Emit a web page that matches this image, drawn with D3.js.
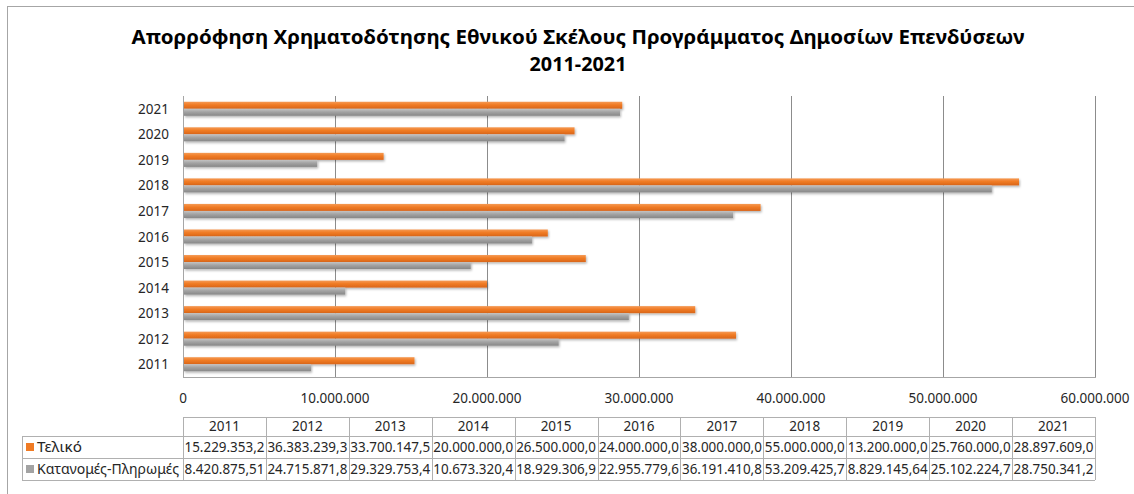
<!DOCTYPE html>
<head>
  <meta charset="utf-8">
  <style>
    body { margin: 0; background: #fff; }
    svg { display: block; font-family: "Noto Sans", "Open Sans", sans-serif; }
  </style>
  <script src="https://cdn.jsdelivr.net/npm/d3@7"></script>
</head>
<body>
  <svg width="1134" height="494"></svg>
  <script>

  var years = [2011, 2012, 2013, 2014, 2015, 2016, 2017, 2018, 2019, 2020, 2021];
  var teliko = [15229353.2, 36383239.3, 33700147.5, 20000000.0, 26500000.0, 24000000.0,
                38000000.0, 55000000.0, 13200000.0, 25760000.0, 28897609.0];
  var katanomes = [8420875.51, 24715871.8, 29329753.4, 10673320.4, 18929306.9, 22955779.6,
                   36191410.8, 53209425.7, 8829145.64, 25102224.7, 28750341.2];
  var seriesNames = ["Τελικό", "Κατανομές-Πληρωμές"];
  var xTicks = [0, 10000000, 20000000, 30000000, 40000000, 50000000, 60000000];
  var titleLines = ["Απορρόφηση Χρηματοδότησης Εθνικού Σκέλους Προγράμματος Δημοσίων Επενδύσεων", "2011-2021"];

  var svg = d3.select("svg"),
      width = +svg.attr("width"),
      height = +svg.attr("height");

  var gr = d3.formatLocale({decimal: ",", thousands: ".", grouping: [3], currency: ["", ""]});
  var fmtTick = gr.format(",.0f");
  function fmtCell(v) { return v >= 10000000 ? gr.format(",.1f")(v) : gr.format(",.2f")(v); }

  var colors = ["#f07b24", "#a3a3a3"];

  // plot area edges (window.top is read-only, so no "top" here)
  var pLeft = 183, pRight = 1095, pTop = 96, pBottom = 377;

  var x = d3.scaleLinear().domain([0, 60000000]).range([pLeft, pRight]);
  var y = d3.scaleBand().domain(years.slice().reverse()).range([pTop, pBottom]).paddingInner(0.45).paddingOuter(0.225);
  var ySub = d3.scaleBand().domain([0, 1]).range([0, y.bandwidth()]);

  // gradients for the bevelled bars
  var defs = svg.append("defs");
  var grads = [["#f59a55", "#f07b24", "#d9661a"], ["#c4c4c4", "#a3a3a3", "#878787"]];
  grads.forEach(function(c, i) {
    var lg = defs.append("linearGradient").attr("id", "g" + i)
        .attr("x1", 0).attr("y1", 0).attr("x2", 0).attr("y2", 1);
    lg.append("stop").attr("offset", "0%").attr("stop-color", c[0]);
    lg.append("stop").attr("offset", "45%").attr("stop-color", c[1]);
    lg.append("stop").attr("offset", "100%").attr("stop-color", c[2]);
  });
  defs.append("filter").attr("id", "sh").attr("x", "-5%").attr("y", "-50%").attr("width", "110%").attr("height", "200%")
    .append("feDropShadow").attr("dx", 1).attr("dy", 1.5).attr("stdDeviation", 1.2)
    .attr("flood-color", "#000").attr("flood-opacity", 0.3);

  // chart frame
  svg.append("rect")
      .attr("x", 7.5).attr("y", 6.5).attr("width", 1300).attr("height", 600)
      .attr("fill", "none").attr("stroke", "#a6a6a6");

  // title
  svg.append("g").selectAll("text")
    .data(titleLines)
    .enter().append("text")
      .attr("x", 578)
      .attr("y", function(d, i) { return 44 + i * 27; })
      .attr("text-anchor", "middle")
      .attr("font-size", 20)
      .attr("font-weight", "bold")
      .attr("fill", "#000")
      .attr("textLength", function(d, i) { return i ? 97 : 893; })
      .attr("lengthAdjust", "spacingAndGlyphs")
      .text(function(d) { return d; });

  // gridlines
  svg.append("g")
    .selectAll("line")
    .data(xTicks.slice(1))
    .enter().append("line")
      .attr("x1", function(d) { return x(d) + 0.5; })
      .attr("x2", function(d) { return x(d) + 0.5; })
      .attr("y1", pTop).attr("y2", pBottom)
      .attr("stroke", "#8c8c8c");

  // axes
  svg.append("line")
      .attr("x1", pLeft + 0.5).attr("x2", pLeft + 0.5).attr("y1", pTop).attr("y2", pBottom)
      .attr("stroke", "#a6a6a6");
  svg.append("line")
      .attr("x1", pLeft).attr("x2", pRight + 1).attr("y1", pBottom + 0.5).attr("y2", pBottom + 0.5)
      .attr("stroke", "#a6a6a6");

  svg.append("g")
    .selectAll("text")
    .data(years)
    .enter().append("text")
      .attr("x", pLeft - 14)
      .attr("y", function(d) { return y(d) + y.bandwidth() / 2 + 5; })
      .attr("text-anchor", "end")
      .attr("font-size", 13.5)
      .attr("fill", "#262626")
      .text(function(d) { return d; });

  svg.append("g")
    .selectAll("text")
    .data(xTicks)
    .enter().append("text")
      .attr("x", function(d) { return x(d); })
      .attr("y", 403)
      .attr("text-anchor", "middle")
      .attr("font-size", 13.5)
      .attr("fill", "#262626")
      .text(function(d) { return fmtTick(d); });

  // bars
  var series = [teliko, katanomes];
  series.forEach(function(vals, s) {
    svg.append("g")
        .attr("filter", "url(#sh)")
      .selectAll("rect")
      .data(years)
      .enter().append("rect")
        .attr("x", pLeft + 1)
        .attr("y", function(d) { return y(d) + ySub(s); })
        .attr("width", function(d, i) { return x(vals[i]) - pLeft - 1; })
        .attr("height", ySub.bandwidth())
        .attr("fill", "url(#g" + s + ")");
  });

  // data table
  var colW = (pRight - pLeft) / years.length;
  var tx0 = 22, rowY = [417, 436, 458, 480];
  var tg = svg.append("g").attr("stroke", "#b0b0b0").attr("shape-rendering", "crispEdges");
  rowY.forEach(function(ry, i) {
    tg.append("line").attr("x1", i === 0 ? pLeft : tx0).attr("x2", pRight).attr("y1", ry + 0.5).attr("y2", ry + 0.5);
  });
  tg.append("line").attr("x1", tx0 + 0.5).attr("x2", tx0 + 0.5).attr("y1", rowY[1]).attr("y2", rowY[3]);
  d3.range(years.length + 1).forEach(function(i) {
    tg.append("line").attr("x1", pLeft + i * colW + 0.5).attr("x2", pLeft + i * colW + 0.5)
      .attr("y1", rowY[0]).attr("y2", rowY[3]);
  });

  svg.append("g").selectAll("text")
    .data(years)
    .enter().append("text")
      .attr("x", function(d, i) { return pLeft + (i + 0.5) * colW; })
      .attr("y", 431)
      .attr("text-anchor", "middle")
      .attr("font-size", 13.5)
      .attr("fill", "#262626")
      .text(function(d) { return d; });

  series.forEach(function(vals, s) {
    var cy = (rowY[s + 1] + rowY[s + 2]) / 2;
    svg.append("rect")
        .attr("x", 26).attr("y", cy - 4).attr("width", 8).attr("height", 8)
        .attr("fill", colors[s]);
    svg.append("text")
        .attr("x", 37).attr("y", cy + 5)
        .attr("font-size", 13.5).attr("fill", "#262626")
        .attr("textLength", s ? 142 : 45).attr("lengthAdjust", "spacingAndGlyphs")
        .text(seriesNames[s]);
    svg.append("g").selectAll("text")
      .data(vals)
      .enter().append("text")
        .attr("x", function(d, i) { return pLeft + (i + 0.5) * colW; })
        .attr("y", cy + 5)
        .attr("text-anchor", "middle")
        .attr("font-size", 14)
        .attr("fill", "#262626")
        .text(function(d) { return fmtCell(d); })
        .each(function() {
          if (this.getComputedTextLength() > colW - 3) {
            d3.select(this).attr("textLength", colW - 3).attr("lengthAdjust", "spacingAndGlyphs");
          }
        });
  });

  </script>
</body>
